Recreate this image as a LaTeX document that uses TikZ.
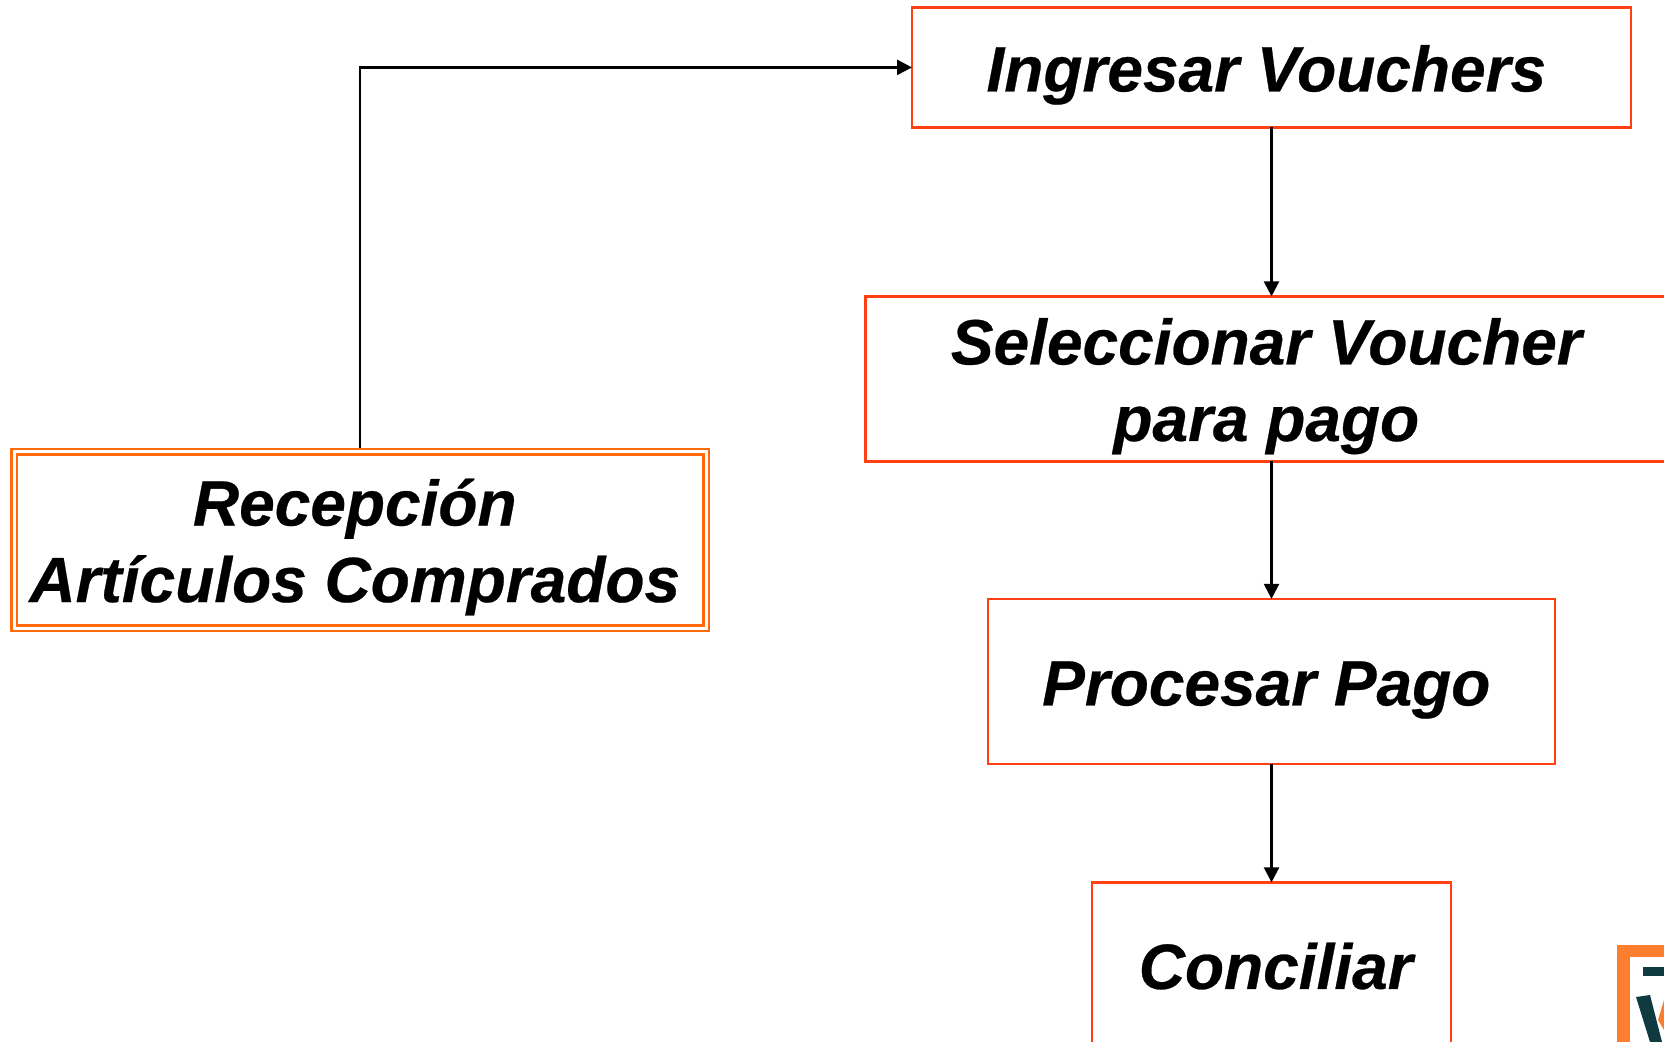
\documentclass[tikz,border=0pt]{standalone}
\usepackage{fontspec}
\setmainfont{Liberation Sans}[BoldItalicFeatures={FakeBold=0.4}]
\usetikzlibrary{positioning,arrows.meta}
\newcommand{\lift}{\rule[-7pt]{0pt}{38pt}}
\newcommand{\nudge}[1][-5.2pt]{\hspace*{#1}}
\newcommand{\lowered}[1]{\raisebox{-15.4pt}[0pt][0pt]{#1}}
\begin{document}
\begin{tikzpicture}[
			x=0.5pt, y=-0.5pt,
			main/.style = {draw=boxred, line width=1.25pt, outer sep=0pt, inner sep=0pt, align=center,
				font=\fontsize{32}{38.3}\selectfont\bfseries\itshape, execute at begin node=\lift},
			first/.style = {main, draw=frameorange, double=white, double distance=1.5pt, line width=1.25pt, outer sep=2pt},
			flow/.style = {draw, line width=1.15pt, -{Triangle[length=7.5pt,width=7.5pt]}},
			]
			\definecolor{boxred}{HTML}{FF4012}
			\definecolor{frameorange}{HTML}{FF6A0A}
			\definecolor{logoorange}{HTML}{FB7F2E}
			\definecolor{logodark}{HTML}{0F3A3F}
			\clip (0,0) rectangle (1664,1042);
			\node[main, minimum width=359.5pt, minimum height=60pt] (ingresar) at (1271.5,67.4) {\nudge Ingresar Vouchers};
			\node[main, minimum width=406pt, minimum height=82.5pt, below=84.5pt of ingresar] (seleccionar) {\nudge\lowered{Seleccionar Voucher}\\\nudge\lowered{para pago}};
			\node[main, minimum width=283.5pt, minimum height=82.5pt, below=68.75pt of seleccionar] (procesar) {\nudge Procesar Pago};
			\node[main, minimum width=179.5pt, minimum height=82.5pt, below=59.25pt of procesar] (conciliar) {\nudge[4.2pt]Conciliar};
			\node[first, minimum width=346pt, minimum height=88pt] (recepcion) at (360,540) {\nudge\lowered{Recepción}\\\nudge\lowered{Artículos Comprados}};
			\draw[flow] (recepcion.north) |- (ingresar.west);
			\draw[flow] (ingresar) -- (seleccionar);
			\draw[flow] (seleccionar) -- (procesar);
			\draw[flow] (procesar) -- (conciliar);
			\fill[logoorange] (1617,945) rectangle (1700,1100);
			\fill[white] (1630,957) rectangle (1700,1100);
			\fill[logodark] (1643,967) rectangle (1700,976);
			\fill[logodark] (1636,997) -- (1650,995) -- (1662,1042) -- (1650,1042) -- cycle;
			\fill[logoorange] (1664,1000) -- (1658,1020) -- (1664,1030) -- cycle;
		\end{tikzpicture}
\end{document}
